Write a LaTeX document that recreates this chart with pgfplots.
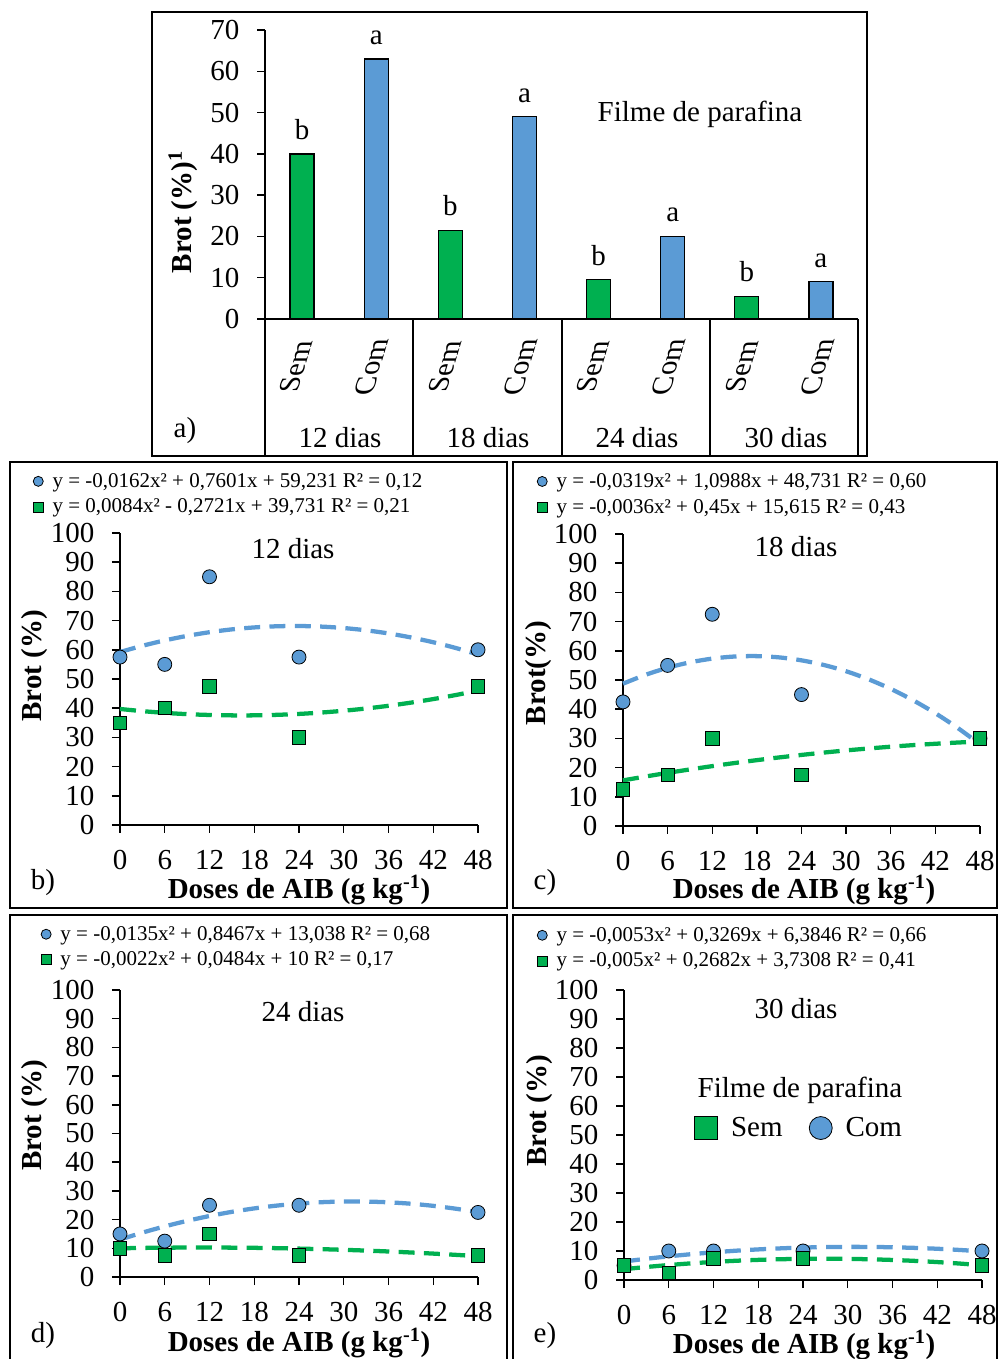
\documentclass[border=0pt]{standalone}
\usepackage{fontspec}
\setmainfont{Liberation Serif}
\usepackage{pgfplots}
\pgfplotsset{compat=1.18}
\definecolor{gr}{RGB}{0,176,80}
\definecolor{bl}{RGB}{91,155,213}
\newcommand{\bigf}{\fontsize{21.75}{26}\selectfont}
\newcommand{\eqf}{\fontsize{15.75}{18}\selectfont}
\pgfplotsset{
  panel/.style={
    anchor=south west, scale only axis, width=268.5pt,
    xmin=0, xmax=48, ymin=0, ymax=100,
    axis lines=left, axis line style={-, line width=1.1pt},
    xtick={0,6,...,48}, ytick={0,10,...,100},
    tick align=outside, major tick length=6pt,
    tick style={line width=1.1pt, black},
    tick label style={font=\bigf},
    xticklabel shift=9.75pt, yticklabel shift=9.75pt,
    /pgf/number format/assume math mode=true,
    xlabel={\textbf{Doses de AIB (g kg\textsuperscript{-1})}},
    ylabel={\textbf{Brot (\%)}},
    label style={font=\bigf},
    clip=false,
    legend cell align=left,
    legend style={draw=none, fill=none, font=\eqf, inner sep=0pt, row sep=4.25pt,
       nodes={inner sep=1.5pt},
       /tikz/every odd column/.append style={column sep=5.5pt}},
    legend image code/.code={\draw[##1, mark size=3.75pt] plot coordinates {(0pt,0pt)};},
  },
  com/.style={only marks, mark=*, mark size=5.25pt, mark options={fill=bl, draw=black, line width=0.6pt}},
  sem/.style={only marks, mark=square*, mark size=5pt, mark options={fill=gr, draw=black, line width=0.6pt}},
  comfit/.style={bl, line width=3.2pt, dash pattern=on 12pt off 7pt, smooth, no marks, forget plot},
  semfit/.style={gr, line width=3.2pt, dash pattern=on 12pt off 7pt, smooth, no marks, forget plot},
}
\begin{document}
\begin{tikzpicture}
\path[use as bounding box] (0pt,0pt) rectangle (748.5pt,1019.25pt);

% ---------------- panel a ----------------
\begin{axis}[at={(198.75pt,780pt)}, anchor=south west, scale only axis,
  width=444.75pt, height=216.75pt,
  xmin=0, xmax=8, ymin=0, ymax=70,
  axis lines=left, axis line style={-, line width=1.1pt},
  xtick=\empty, ytick={0,10,...,70},
  tick align=outside, major tick length=6pt,
  tick style={line width=1.1pt, black},
  tick label style={font=\bigf}, yticklabel shift=9.75pt,
  /pgf/number format/assume math mode=true,
  ylabel={\textbf{Brot (\%)\textsuperscript{1}}},
  ylabel style={font=\bigf, at={(axis description cs:-0.138,0.370)}, anchor=center},
  clip=false, ybar, bar width=18pt,
  every node near coord/.append style={font=\bigf, anchor=base, yshift=11pt},
]
\addplot[ybar, bar shift=0pt, fill=gr, draw=black, line width=1pt, nodes near coords={b}]
  coordinates {(0.5,40) (2.5,21.5) (4.5,9.5) (6.5,5.5)};
\addplot[ybar, bar shift=0pt, fill=bl, draw=black, line width=1pt, nodes near coords={a}]
  coordinates {(1.5,63) (3.5,49) (5.5,20) (7.5,9)};
\end{axis}

% ---------------- panel b ----------------
\begin{axis}[panel, at={(90pt,400.5pt)}, height=219pt,
  xlabel style={at={(axis description cs:0.5,-0.223)}, anchor=center},
  ylabel style={at={(axis description cs:-0.240,0.545)}, anchor=center},
  legend style={at={(axis description cs:-0.243,1.212)}, anchor=north west}]
\addplot[comfit] coordinates {(0,59.23) (3,61.37) (6,63.21) (9,64.76) (12,66.02) (15,66.99) (18,67.66) (21,68.05) (24,68.14) (27,67.94) (30,67.45) (33,66.67) (36,65.60) (39,64.23) (42,62.58) (45,60.63) (48,58.39)};
\addplot[semfit] coordinates {(0,39.73) (3,38.99) (6,38.40) (9,37.96) (12,37.68) (15,37.54) (18,37.55) (21,37.72) (24,38.04) (27,38.51) (30,39.13) (33,39.90) (36,40.82) (39,41.90) (42,43.12) (45,44.50) (48,46.02)};
\addplot[com] coordinates {(0,57.5) (6,55) (12,85) (24,57.5) (48,60)};
\addlegendentry{y = -0,0162x² + 0,7601x + 59,231 R² = 0,12}
\addplot[sem] coordinates {(0,35) (6,40) (12,47.5) (24,30) (48,47.5)};
\addlegendentry{y = 0,0084x² - 0,2721x + 39,731 R² = 0,21}
\end{axis}

% ---------------- panel c ----------------
\begin{axis}[panel, at={(467.25pt,399.75pt)}, width=267.75pt, height=219pt,
  ylabel={\textbf{Brot(\%)}},
  xlabel style={at={(axis description cs:0.507,-0.219)}, anchor=center},
  ylabel style={at={(axis description cs:-0.238,0.524)}, anchor=center},
  legend style={at={(axis description cs:-0.241,1.215)}, anchor=north west}]
\addplot[comfit] coordinates {(0,48.73) (3,51.74) (6,54.18) (9,56.04) (12,57.32) (15,58.04) (18,58.17) (21,57.74) (24,56.73) (27,55.14) (30,52.99) (33,50.25) (36,46.95) (39,43.06) (42,38.61) (45,33.58) (48,27.98)};
\addplot[semfit] coordinates {(0,15.62) (3,16.93) (6,18.19) (9,19.37) (12,20.50) (15,21.56) (18,22.55) (21,23.48) (24,24.34) (27,25.14) (30,25.88) (33,26.54) (36,27.15) (39,27.69) (42,28.16) (45,28.58) (48,28.92)};
\addplot[com] coordinates {(0,42.5) (6,55) (12,72.5) (24,45) (48,30)};
\addlegendentry{y = -0,0319x² + 1,0988x + 48,731 R² = 0,60}
\addplot[sem] coordinates {(0,12.5) (6,17.5) (12,30) (24,17.5) (48,30)};
\addlegendentry{y = -0,0036x² + 0,45x + 15,615 R² = 0,43}
\end{axis}

% ---------------- panel d ----------------
\begin{axis}[panel, at={(90pt,61.5pt)}, height=215.25pt,
  xlabel style={at={(axis description cs:0.5,-0.230)}, anchor=center},
  ylabel style={at={(axis description cs:-0.240,0.564)}, anchor=center},
  legend style={at={(axis description cs:-0.221,1.230)}, anchor=north west}]
\addplot[comfit] coordinates {(0,13.04) (3,15.46) (6,17.63) (9,19.56) (12,21.25) (15,22.70) (18,23.90) (21,24.87) (24,25.58) (27,26.06) (30,26.29) (33,26.28) (36,26.02) (39,25.53) (42,24.79) (45,23.80) (48,22.58)};
\addplot[semfit] coordinates {(0,10) (3,10.13) (6,10.21) (9,10.26) (12,10.26) (15,10.23) (18,10.16) (21,10.05) (24,9.89) (27,9.70) (30,9.47) (33,9.20) (36,8.89) (39,8.54) (42,8.15) (45,7.72) (48,7.25)};
\addplot[com] coordinates {(0,15) (6,12.5) (12,25) (24,25) (48,22.5)};
\addlegendentry{y = -0,0135x² + 0,8467x + 13,038 R² = 0,68}
\addplot[sem] coordinates {(0,10) (6,7.5) (12,15) (24,7.5) (48,7.5)};
\addlegendentry{y = -0,0022x² + 0,0484x + 10 R² = 0,17}
\end{axis}

% ---------------- panel e ----------------
\begin{axis}[panel, at={(468pt,59.25pt)}, height=217.5pt,
  xlabel style={at={(axis description cs:0.503,-0.224)}, anchor=center},
  ylabel style={at={(axis description cs:-0.235,0.583)}, anchor=center},
  legend style={at={(axis description cs:-0.243,1.224)}, anchor=north west}]
\addplot[comfit] coordinates {(0,6.38) (3,7.32) (6,8.16) (9,8.90) (12,9.54) (15,10.10) (18,10.55) (21,10.91) (24,11.18) (27,11.35) (30,11.42) (33,11.40) (36,11.28) (39,11.07) (42,10.77) (45,10.36) (48,9.86)};
\addplot[semfit] coordinates {(0,3.73) (3,4.49) (6,5.16) (9,5.74) (12,6.23) (15,6.63) (18,6.94) (21,7.16) (24,7.29) (27,7.33) (30,7.28) (33,7.14) (36,6.91) (39,6.59) (42,6.18) (45,5.67) (48,5.08)};
\addplot[com] coordinates {(0,5) (6,10) (12,10) (24,10) (48,10)};
\addlegendentry{y = -0,0053x² + 0,3269x + 6,3846 R² = 0,66}
\addplot[sem] coordinates {(0,5) (6,2.5) (12,7.5) (24,7.5) (48,5)};
\addlegendentry{y = -0,005x² + 0,2682x + 3,7308 R² = 0,41}
\end{axis}
\begin{axis}[at={(468pt,59.25pt)}, anchor=south west, scale only axis, width=268.5pt, height=217.5pt,
  xmin=0, xmax=48, ymin=0, ymax=100, hide axis,
  legend columns=2,
  legend style={draw=none, fill=none, font=\bigf, inner sep=0pt,
     at={(axis description cs:0.197,0.524)}, anchor=west,
     nodes={inner sep=0pt},
     /tikz/every odd column/.append style={column sep=10pt},
     /tikz/every even column/.append style={column sep=20pt}},
  legend image code/.code={\draw[#1, mark size=8.6pt] plot coordinates {(0pt,0pt)};}]
\addlegendimage{sem}
\addlegendentry{Sem}
\addlegendimage{com}
\addlegendentry{Com}
\end{axis}

\begin{scope}[x=0.75pt, y=0.75pt]
% panel a decorations
\draw[line width=1.2pt] (152,1347) rectangle (867,903);
\foreach \xx in {265,413,562,710,858} {\draw[line width=1.1pt] (\xx,1040) -- (\xx,903);}
\node[font=\bigf] at (700,1245) {Filme de parafina};
\node[font=\bigf] at (185,928) {a)};
\foreach \xx/\tt in {296/Sem,371/Com,445/Sem,520/Com,593/Sem,668/Com,742/Sem,817/Com}
  {\node[font=\bigf, xslant=0.3, rotate=90] at (\xx,992) {\tt};}
\foreach \xx/\tt in {340/12,488/18,637/24,786/30}
  {\node[font=\bigf] at (\xx,921) {\tt\ dias};}
% panel b
\draw[line width=1.2pt] (10,897) rectangle (507,451);
\node[font=\bigf] at (293,810) {12 dias};
\node[font=\bigf] at (43,476) {b)};
% panel c
\draw[line width=1.2pt] (513,897) rectangle (997,451);
\node[font=\bigf] at (796,812) {18 dias};
\node[font=\bigf] at (545,476) {c)};
% panel d
\draw[line width=1.2pt] (10,444) rectangle (507,-5);
\node[font=\bigf] at (303,347) {24 dias};
\node[font=\bigf] at (43,23) {d)};
% panel e
\draw[line width=1.2pt] (513,444) rectangle (997,-5);
\node[font=\bigf] at (796,350) {30 dias};
\node[font=\bigf] at (800,269) {Filme de parafina};
\node[font=\bigf] at (545,23) {e)};
\end{scope}
\end{tikzpicture}
\end{document}
